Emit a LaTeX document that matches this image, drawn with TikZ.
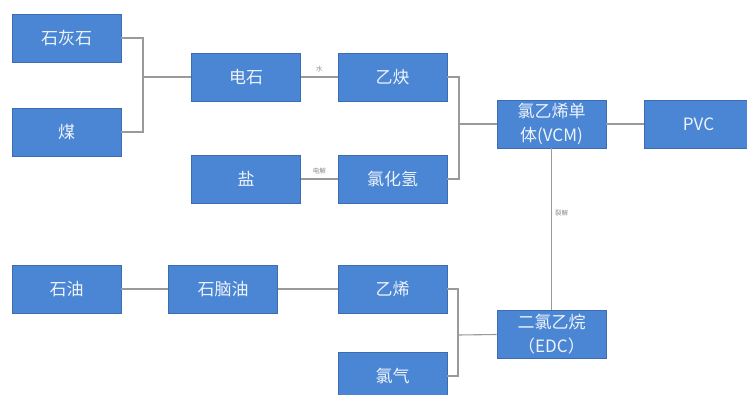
\documentclass[tikz,border=0pt]{standalone}
\usepackage{fontspec}
\setmainfont{Noto Sans CJK SC}
\definecolor{boxblue}{HTML}{4A86D3}
\definecolor{boxedge}{HTML}{3C6DB0}
\definecolor{boxtext}{HTML}{EEF3FB}
\definecolor{linegray}{HTML}{9A9A9A}
\definecolor{labgray}{HTML}{8A8A8A}
\begin{document}
\begin{tikzpicture}[x=1pt,y=-1pt,
  procbox/.style={rectangle,fill=boxblue,draw=boxedge,line width=0.6pt,
    minimum width=109pt,minimum height=48pt,inner sep=0pt,text=boxtext,
    font=\fontsize{17}{24}\selectfont,align=center},
  conn/.style={draw=linegray,line width=1.1pt},
  lab/.style={font=\fontsize{6.5}{7}\selectfont,text=labgray,inner sep=1pt}]
\useasboundingbox (0,0) rectangle (747,394);
\begin{scope}
\clip (0,0) rectangle (747,394);
\node[procbox] (shs) at (66.5,38) {石灰石};
\node[procbox] (mei) at (66.5,132) {煤};
\node[procbox] (dianshi) at (246,77) {电石};
\node[procbox] (yique) at (392.5,77) {乙炔};
\node[procbox] (yan) at (246,179) {盐};
\node[procbox] (hcl) at (392.5,179) {氯化氢};
\node[procbox] (vcm) at (551.5,124) {氯乙烯单\\体(VCM)};
\node[procbox] (pvc) at (698.5,124) {PVC};
\node[procbox] (shiyou) at (66.5,289) {石油};
\node[procbox] (naph) at (223,289) {石脑油};
\node[procbox] (yixi) at (392.5,289) {乙烯};
\node[procbox] (cl2) at (392.5,376) {氯气};
\node[procbox] (edc) at (551.5,334.5) {二氯乙烷\\（EDC）};
\coordinate (j1) at (143,77);
\coordinate (j2) at (459,124);
\coordinate (j3) at (458,335);
\draw[conn] (shs.east) -| (j1);
\draw[conn] (mei.east) -| (j1);
\draw[conn] (j1) -- (dianshi.west);
\draw[conn] (dianshi.east) -- node[lab,above=3pt] {水} (yique.west);
\draw[conn] (yan.east) -- node[lab,above=3pt] {电解} (hcl.west);
\draw[conn] (yique.east) -| (j2);
\draw[conn] (hcl.east) -| (j2);
\draw[conn] (j2) -- (vcm.west);
\draw[conn] (vcm.east) -- (pvc.west);
\draw[conn] (vcm.south) -- node[lab,right=2pt,pos=0.4] {裂解} (edc.north);
\draw[conn] (shiyou.east) -- (naph.west);
\draw[conn] (naph.east) -- (yixi.west);
\draw[conn] (yixi.east) -| (j3);
\draw[conn] (cl2.east) -| (j3);
\draw[conn] (j3) -- (edc.west);
\end{scope}
\end{tikzpicture}
\end{document}
